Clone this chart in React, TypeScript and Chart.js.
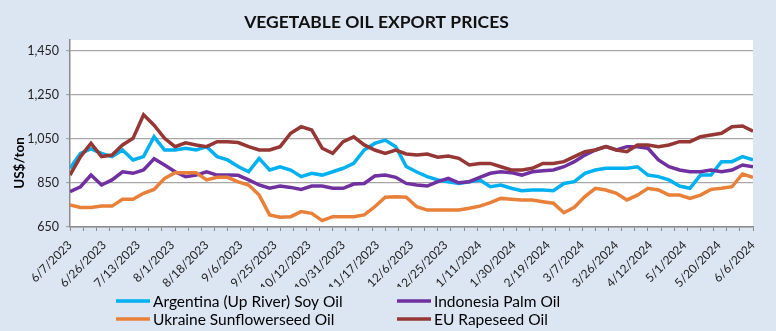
import React, { useEffect, useRef } from "react";
import { Chart, registerables } from "chart.js";

Chart.register(...registerables);

const title = "VEGETABLE OIL EXPORT PRICES";
const yAxisTitle = "US$/ton";

// x labels shown every 13 trading days; tick marks every 5 trading days
const tickLabels = [
  "6/7/2023", "6/26/2023", "7/13/2023", "8/1/2023", "8/18/2023", "9/6/2023",
  "9/25/2023", "10/12/2023", "10/31/2023", "11/17/2023", "12/6/2023", "12/25/2023",
  "1/11/2024", "1/30/2024", "2/19/2024", "3/7/2024", "3/26/2024", "4/12/2024",
  "5/1/2024", "5/20/2024", "6/6/2024",
];
const DAYS_PER_LABEL = 13;
const DAYS_PER_MARK = 5;
const LAST_DAY = 260;
const SAMPLE_STEP = 4; // series values read every 4th trading day

const yTickValues = [650, 850, 1050, 1250, 1450];
const Y_MIN = 650;
const Y_MAX = 1500;

const seriesNames = [
  "Argentina (Up River) Soy Oil",
  "Indonesia Palm Oil",
  "Ukraine Sunflowerseed Oil",
  "EU Rapeseed Oil",
];
const seriesColors = ["#00b0f0", "#7030a0", "#e8803a", "#953735"];

const argentinaSoy = [
  917, 985, 1005, 985, 970, 1000, 955, 970, 1060, 1000, 1000, 1008, 1000, 1015, 970, 955, 925,
  901, 962, 909, 924, 909, 879, 894, 886, 901, 917, 939, 1000, 1030, 1045, 1015, 925,
  900, 879, 864, 856, 848, 856, 864, 833, 841, 826, 815, 818, 818, 815, 848, 856,
  894, 909, 917, 917, 917, 924, 886, 879, 864, 836, 826, 886, 886, 947, 947, 970, 955,
];
const indonesiaPalm = [
  811, 833, 886, 841, 864, 901, 894, 909, 960, 932, 901, 879, 886, 901, 886, 886, 885,
  864, 841, 826, 836, 830, 821, 836, 836, 826, 826, 845, 848, 882, 886, 876, 848,
  841, 836, 856, 871, 851, 856, 876, 894, 901, 897, 886, 901, 906, 909, 924, 947,
  977, 1000, 1015, 1000, 1015, 1015, 1008, 955, 924, 909, 901, 901, 909, 901, 909, 932, 924,
];
const ukraineSunflower = [
  750, 739, 739, 745, 745, 776, 776, 803, 821, 871, 897, 897, 897, 864, 876, 876, 855,
  841, 795, 705, 694, 697, 720, 712, 679, 697, 697, 697, 705, 742, 785, 788, 785,
  742, 727, 727, 727, 727, 735, 745, 761, 780, 776, 773, 773, 765, 758, 715, 740,
  788, 826, 818, 803, 773, 795, 826, 818, 795, 795, 780, 795, 821, 826, 833, 891, 876,
];
const euRapeseed = [
  886, 970, 1030, 970, 977, 1023, 1053, 1160, 1113, 1053, 1015, 1033, 1023, 1015, 1038, 1038, 1034,
  1015, 1000, 1000, 1015, 1076, 1106, 1091, 1008, 985, 1038, 1060, 1023, 1000, 985, 1000, 982,
  977, 982, 967, 973, 962, 932, 939, 939, 924, 909, 909, 917, 939, 939, 947, 970,
  992, 1000, 1015, 1000, 992, 1023, 1023, 1015, 1023, 1038, 1038, 1060, 1068, 1076, 1106, 1109, 1085,
];
const seriesValues = [argentinaSoy, indonesiaPalm, ukraineSunflower, euRapeseed];

const FONT = "Lato";

const decorPlugin = {
  id: "decor",
  beforeDraw(chart: any) {
    const { ctx, chartArea } = chart;
    ctx.save();
    ctx.fillStyle = "#dce6f2";
    ctx.fillRect(0, 0, chart.width, chart.height);
    ctx.fillStyle = "#ffffff";
    ctx.fillRect(chartArea.left, chartArea.top, chartArea.right - chartArea.left, chartArea.bottom - chartArea.top);
    ctx.restore();
  },
  afterDraw(chart: any) {
    const { ctx } = chart;
    ctx.save();
    // y axis title
    ctx.translate(20, 163);
    ctx.rotate(-Math.PI / 2);
    ctx.font = `bold 13.5px ${FONT}`;
    ctx.fillStyle = "#000";
    ctx.textAlign = "center";
    ctx.textBaseline = "middle";
    ctx.fillText(yAxisTitle, 0, 0);
    ctx.restore();

    // legend, 2 columns x 2 rows
    const colX = [116, 397];
    const rowY = [301, 319];
    ctx.save();
    ctx.font = `15.5px ${FONT}`;
    ctx.textBaseline = "middle";
    ctx.textAlign = "left";
    chart.data.datasets.forEach((ds: any, i: number) => {
      const x = colX[i % 2];
      const y = rowY[Math.floor(i / 2)];
      ctx.strokeStyle = ds.borderColor;
      ctx.lineWidth = 3.5;
      ctx.beginPath();
      ctx.moveTo(x, y);
      ctx.lineTo(x + 34, y);
      ctx.stroke();
      ctx.fillStyle = "#000";
      ctx.fillText(ds.label, x + 37, y + 0.5);
    });
    ctx.restore();
  },
};

export default function App() {
  const ref = useRef<HTMLCanvasElement | null>(null);

  useEffect(() => {
    let chart: Chart | null = null;
    let cancelled = false;
    const make = () => {
      if (cancelled || !ref.current) return;
      const datasets = seriesValues.map((vals, i) => ({
        label: seriesNames[i],
        data: vals.map((v, k) => ({ x: k * SAMPLE_STEP, y: v })),
        borderColor: seriesColors[i],
        backgroundColor: seriesColors[i],
        borderWidth: 3.5,
        pointRadius: 0,
        tension: 0,
        fill: false,
        order: seriesValues.length - 1 - i,
      }));
      chart = new Chart(ref.current, {
        type: "line",
        data: { datasets },
        plugins: [decorPlugin],
        options: {
          responsive: false,
          animation: false,
          devicePixelRatio: 1,
          layout: { padding: { top: 0, right: 23, bottom: 44, left: 0 } },
          plugins: {
            legend: { display: false },
            tooltip: { enabled: false },
            title: {
              display: true,
              text: title,
              color: "#111",
              font: { family: FONT, size: 17.5, weight: "bold" },
              padding: { top: 12, bottom: 7 },
            },
          },
          scales: {
            x: {
              type: "linear",
              min: 0,
              max: LAST_DAY,
              afterBuildTicks(scale: any) {
                const t: any[] = [];
                for (let v = 0; v <= LAST_DAY; v++) {
                  if (v % DAYS_PER_MARK === 0 || v % DAYS_PER_LABEL === 0) t.push({ value: v });
                }
                scale.ticks = t;
              },
              afterFit(scale: any) {
                scale.height = 60;
              },
              ticks: {
                autoSkip: false,
                minRotation: 45,
                maxRotation: 45,
                padding: 7,
                color: "#222",
                font: { family: FONT, size: 12 },
                callback: (v: any) => (v % DAYS_PER_LABEL === 0 ? tickLabels[v / DAYS_PER_LABEL] : ""),
              },
              grid: {
                drawOnChartArea: false,
                drawTicks: true,
                tickLength: 4,
                color: (c: any) =>
                  c.tick && c.tick.value % DAYS_PER_MARK === 0 ? "#8a8a8a" : "rgba(0,0,0,0)",
              },
              border: { display: true, color: "#8a8a8a", width: 1.5 },
            },
            y: {
              min: Y_MIN,
              max: Y_MAX,
              afterBuildTicks(scale: any) {
                scale.ticks = yTickValues.map((v) => ({ value: v }));
              },
              afterFit(scale: any) {
                scale.width = 70;
              },
              ticks: {
                padding: 7,
                color: "#222",
                font: { family: FONT, size: 12.5 },
                callback: (v: any) => Number(v).toLocaleString("en-US"),
              },
              grid: { color: "#a6a6a6", lineWidth: 1.2, tickLength: 4, drawTicks: true },
              border: { display: true, color: "#8a8a8a", width: 1.5 },
            },
          },
        },
      } as any);
    };
    const fontsReady = (document as any).fonts
      ? Promise.all([
          (document as any).fonts.load(`bold 16px ${FONT}`),
          (document as any).fonts.load(`14px ${FONT}`),
        ]).catch(() => null)
      : Promise.resolve(null);
    fontsReady.then(make);
    return () => {
      cancelled = true;
      if (chart) chart.destroy();
    };
  }, []);

  return (
    <div style={{ position: "absolute", left: 0, top: 0, width: 776, height: 331, background: "#dce6f2" }}>
      <canvas ref={ref} width={776} height={331} style={{ display: "block", width: 776, height: 331 }} />
    </div>
  );
}
